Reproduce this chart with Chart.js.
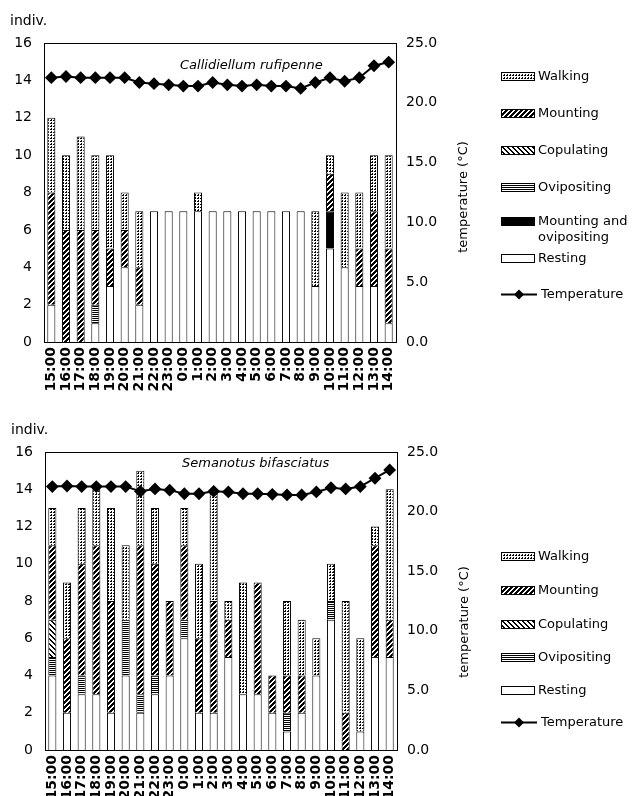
<!DOCTYPE html>
<html>
<head>
<meta charset="utf-8">
<script src="https://cdn.jsdelivr.net/npm/chart.js@4.4.1/dist/chart.umd.min.js"></script>
<style>
  body { margin: 0; background: #fff; font-family: 'DejaVu Sans', sans-serif; color: #000; }
  #wrap { position: relative; width: 633px; height: 796px; overflow: hidden; }
  #wrap > canvas { position: absolute; left: 0; }
  .lbl { position: absolute; font-size: 14px; white-space: nowrap; }
  .sp { position: absolute; font-size: 13px; font-style: italic; white-space: nowrap; }
  .ytitle { position: absolute; font-size: 13px; white-space: nowrap; transform: translate(-50%, -50%) rotate(-90deg); }
  .leg { position: absolute; left: 501px; width: 132px; font-size: 13px; }
  .leg .txt { position: absolute; white-space: nowrap; line-height: 16px; }
  .leg canvas { position: absolute; left: 0; }
</style>
</head>
<body>
<div id="wrap">
  <canvas id="top" width="633" height="410" style="top:0"></canvas>
  <canvas id="bottom" width="633" height="386" style="top:410px"></canvas>
  <div class="lbl" style="left:10px;top:12px">indiv.</div>
  <div class="lbl" style="left:11px;top:421px">indiv.</div>
  <div class="sp" style="left:180px;top:57px">Callidiellum rufipenne</div>
  <div class="sp" style="left:182px;top:455px">Semanotus bifasciatus</div>
  <div class="ytitle" style="left:462px;top:197px">temperature (°C)</div>
  <div class="ytitle" style="left:463px;top:622px">temperature (°C)</div>
  <div class="leg" id="legTop" style="top:0"></div>
  <div class="leg" id="legBottom" style="top:0"></div>
</div>
<script>
const hours = ['15:00','16:00','17:00','18:00','19:00','20:00','21:00','22:00','23:00','0:00','1:00','2:00',
               '3:00','4:00','5:00','6:00','7:00','8:00','9:00','10:00','11:00','12:00','13:00','14:00'];

// Callidiellum rufipenne (individuals)
const cRest     = [2,0,0,1,3,4,2,7,7,7,7,7,7,7,7,7,7,7,3,5,4,3,3,1];
const cMountOvi = [0,0,0,0,0,0,0,0,0,0,0,0,0,0,0,0,0,0,0,2,0,0,0,0];
const cOvi      = [0,0,0,1,0,0,0,0,0,0,0,0,0,0,0,0,0,0,0,0,0,0,0,0];
const cCop      = [0,0,0,0,0,0,0,0,0,0,0,0,0,0,0,0,0,0,0,0,0,0,0,0];
const cMount    = [6,6,6,4,2,2,2,0,0,0,0,0,0,0,0,0,0,0,0,2,0,2,4,4];
const cWalk     = [4,4,5,4,5,2,3,0,0,0,1,0,0,0,0,0,0,0,4,1,4,3,3,5];
const cTemp     = [22.1,22.2,22.1,22.1,22.1,22.1,21.7,21.6,21.5,21.4,21.4,21.7,
                   21.5,21.4,21.5,21.4,21.4,21.2,21.7,22.1,21.8,22.1,23.1,23.4];

// Semanotus bifasciatus (individuals)
const sRest  = [4,2,3,3,2,4,2,3,4,6,2,2,5,3,3,2,1,2,4,7,0,1,5,5];
const sOvi   = [1,0,1,0,0,3,1,1,0,1,0,0,0,0,0,0,1,0,0,1,0,0,0,0];
const sCop   = [2,0,0,0,0,0,0,0,0,0,0,0,0,0,0,0,0,0,0,0,0,0,0,0];
const sMount = [4,4,6,8,6,0,8,6,4,4,4,6,2,0,6,2,2,2,0,0,2,0,6,2];
const sWalk  = [2,3,3,3,5,4,4,3,0,2,4,6,1,6,0,0,4,3,2,2,6,5,1,7];
const sTemp  = [22.1,22.15,22.1,22.1,22.1,22.1,21.7,21.9,21.8,21.5,21.5,21.7,
                21.65,21.5,21.5,21.45,21.4,21.4,21.65,22.0,21.9,22.1,22.8,23.5];

// fill patterns, built from tiny pixel tiles
function tile(n, m, on) {
  const c = document.createElement('canvas');
  c.width = n; c.height = m;
  const g = c.getContext('2d');
  g.fillStyle = '#fff'; g.fillRect(0, 0, n, m);
  g.fillStyle = '#000';
  for (let x = 0; x < n; x++)
    for (let y = 0; y < m; y++)
      if (on(x, y)) g.fillRect(x, y, 1, 1);
  return g.createPattern(c, 'repeat');
}
const fills = {
  walk: tile(3, 3, (x, y) => (x === 0 && y !== 1) || (y === 0 && x !== 1)),
  mount: tile(5, 5, (x, y) => (x + y) % 5 < 3),
  cop: tile(5, 5, (x, y) => ((x - y) % 5 + 5) % 5 < 2),
  ovi: tile(1, 2, (x, y) => y === 0),
  mountOvi: '#000',
  rest: '#fff'
};

const frame = {
  id: 'frame',
  afterDraw(chart) {
    const a = chart.chartArea, g = chart.ctx;
    g.save();
    g.strokeStyle = '#000';
    g.lineWidth = 1;
    g.strokeRect(a.left + 0.5, a.top + 0.5, a.right - a.left, a.bottom - a.top);
    g.restore();
  }
};

function makeChart(id, series, temps, box) {
  const datasets = series.map(s => ({
    type: 'bar', label: s.label, data: s.data, backgroundColor: fills[s.key],
    borderColor: '#000', borderWidth: 1, yAxisID: 'y', order: 2,
    barPercentage: 0.55, categoryPercentage: 1
  }));
  datasets.push({
    type: 'line', label: 'Temperature', data: temps, yAxisID: 'y1', order: 1,
    borderColor: '#000', borderWidth: 2, pointStyle: 'rectRot', pointRadius: 5,
    pointBackgroundColor: '#000', pointBorderColor: '#000', tension: 0
  });
  const tickFont = { family: 'DejaVu Sans', size: 14 };
  const noGrid = { display: false, drawTicks: false };
  new Chart(document.getElementById(id), {
    data: { labels: hours, datasets },
    options: {
      responsive: false,
      animation: false,
      layout: { padding: { top: box.top } },
      plugins: { legend: { display: false }, tooltip: { enabled: false } },
      scales: {
        x: {
          stacked: true,
          grid: noGrid, border: { display: false },
          ticks: { color: '#000', font: { family: 'DejaVu Sans', size: 14, weight: 'bold' },
                   minRotation: 90, maxRotation: 90, autoSkip: false, padding: 5 },
          afterFit(s) { s.height = box.xh; }
        },
        y: {
          stacked: true, min: 0, max: 16,
          grid: noGrid, border: { display: false },
          ticks: { stepSize: 2, color: '#000', font: tickFont, padding: 12 },
          afterFit(s) { s.width = box.left; }
        },
        y1: {
          position: 'right', min: 0, max: 25,
          grid: noGrid, border: { display: false },
          ticks: { stepSize: 5, color: '#000', font: tickFont, padding: 10,
                   callback: v => v.toFixed(1) },
          afterFit(s) { s.width = 633 - box.right; }
        }
      }
    },
    plugins: [frame]
  });
}

makeChart('top', [
  { label: 'Resting', key: 'rest', data: cRest },
  { label: 'Mounting and ovipositing', key: 'mountOvi', data: cMountOvi },
  { label: 'Ovipositing', key: 'ovi', data: cOvi },
  { label: 'Copulating', key: 'cop', data: cCop },
  { label: 'Mounting', key: 'mount', data: cMount },
  { label: 'Walking', key: 'walk', data: cWalk }
], cTemp, { top: 43, left: 44, right: 396, xh: 68 });

makeChart('bottom', [
  { label: 'Resting', key: 'rest', data: sRest },
  { label: 'Ovipositing', key: 'ovi', data: sOvi },
  { label: 'Copulating', key: 'cop', data: sCop },
  { label: 'Mounting', key: 'mount', data: sMount },
  { label: 'Walking', key: 'walk', data: sWalk }
], sTemp, { top: 42, left: 45, right: 397, xh: 46 });

// html legends with pattern swatches
function legend(id, items) {
  const box = document.getElementById(id);
  items.forEach(it => {
    const c = document.createElement('canvas');
    const g = c.getContext('2d');
    if (it.key === 'temp') {
      c.width = 36; c.height = 11;
      c.style.top = (it.y - 5.5) + 'px';
      g.fillStyle = '#000';
      g.fillRect(0, 4.5, 36, 2);
      g.beginPath();
      g.moveTo(18, 0.5); g.lineTo(23, 5.5); g.lineTo(18, 10.5); g.lineTo(13, 5.5);
      g.closePath(); g.fill();
    } else {
      c.width = 34; c.height = 9;
      c.style.top = (it.y - 4.5) + 'px';
      g.fillStyle = fills[it.key];
      g.fillRect(0, 0, 34, 9);
      g.strokeStyle = '#000';
      g.lineWidth = 1;
      g.strokeRect(0.5, 0.5, 33, 8);
    }
    box.appendChild(c);
    const t = document.createElement('div');
    t.className = 'txt';
    t.style.left = (it.key === 'temp' ? 40 : 37) + 'px';
    t.style.top = (it.y - 8) + 'px';
    t.innerHTML = it.text;
    box.appendChild(t);
  });
}
legend('legTop', [
  { key: 'walk', text: 'Walking', y: 76 },
  { key: 'mount', text: 'Mounting', y: 113 },
  { key: 'cop', text: 'Copulating', y: 150 },
  { key: 'ovi', text: 'Ovipositing', y: 187 },
  { key: 'mountOvi', text: 'Mounting and<br>ovipositing', y: 221 },
  { key: 'rest', text: 'Resting', y: 258 },
  { key: 'temp', text: 'Temperature', y: 294 }
]);
legend('legBottom', [
  { key: 'walk', text: 'Walking', y: 556 },
  { key: 'mount', text: 'Mounting', y: 590 },
  { key: 'cop', text: 'Copulating', y: 624 },
  { key: 'ovi', text: 'Ovipositing', y: 657 },
  { key: 'rest', text: 'Resting', y: 690 },
  { key: 'temp', text: 'Temperature', y: 722 }
]);
</script>
</body>
</html>
